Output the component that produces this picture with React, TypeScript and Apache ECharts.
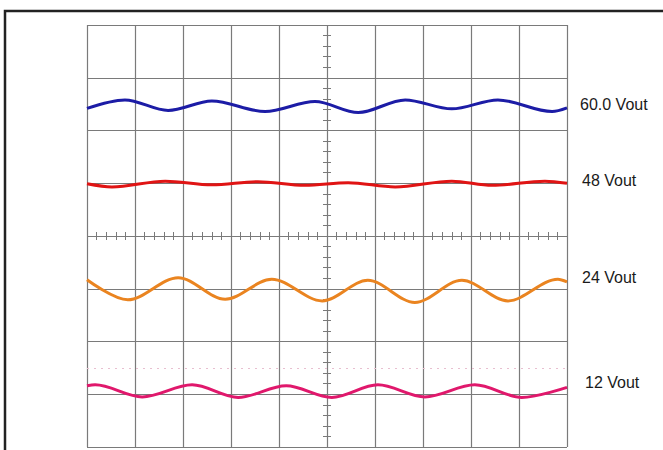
import React, { useEffect, useRef } from "react";
import * as echarts from "echarts";

// Oscilloscope screen: 10 horizontal divisions x 8 vertical divisions.
// Each trace point is [x division, y division (from bottom)]:
// trace ends plus each crest and trough.
const trace60V: [number, number][] = [
  [0, 6.42], [0.79, 6.58], [1.69, 6.38], [2.6, 6.56], [3.71, 6.36], [4.75, 6.55],
  [5.65, 6.34], [6.63, 6.58], [7.6, 6.41], [8.56, 6.58], [9.69, 6.36], [10, 6.43],
];
const trace48V: [number, number][] = [
  [0, 4.99], [0.52, 4.93], [1.63, 5.04], [2.6, 4.97], [3.56, 5.03], [4.54, 4.96],
  [5.44, 5.01], [6.42, 4.93], [7.6, 5.04], [8.44, 4.96], [9.54, 5.04], [10, 5.0],
];
const trace24V: [number, number][] = [
  [0, 3.17], [0.85, 2.79], [1.9, 3.21], [2.88, 2.8], [3.85, 3.18], [4.9, 2.77],
  [5.85, 3.16], [6.83, 2.74], [7.81, 3.16], [8.77, 2.77], [9.81, 3.18], [10, 3.13],
];
const trace12V: [number, number][] = [
  [0, 1.16], [0.17, 1.18], [1.15, 0.95], [2.19, 1.18], [3.15, 0.94], [4.15, 1.16],
  [5.1, 0.94], [6.06, 1.18], [7.04, 0.95], [8.08, 1.18], [9.06, 0.94], [10, 1.13],
];
const refLevel12V = 1.5;

const labels = ["60.0 Vout", "48 Vout", "24 Vout", "12 Vout"];
const labelPos: [number, number][] = [[580, 104], [582, 180], [582, 277], [585, 382]];
const colors = ["#1c1ca6", "#e01414", "#ea8420", "#e0186c"];

export default function App() {
  const ref = useRef<HTMLDivElement>(null);
  useEffect(() => {
    document.body.style.margin = "0";
    const chart = echarts.init(ref.current!, null, { renderer: "svg" });
    const gridColor = "#7a7a7a";
    const traces = [trace60V, trace48V, trace24V, trace12V];
    chart.setOption({
      animation: false,
      backgroundColor: "#ffffff",
      grid: [
        { left: 87, top: 25, width: 480, height: 422 },
        { left: 87, top: 232, width: 480, height: 8 },
        { left: 323, top: 25, width: 8, height: 422 },
      ],
      xAxis: [
        {
          type: "value", gridIndex: 0, min: 0, max: 10, interval: 1,
          axisLine: { show: false }, axisTick: { show: false }, axisLabel: { show: false },
          splitLine: { show: true, lineStyle: { color: gridColor, width: 1.2 } },
        },
        {
          type: "value", gridIndex: 1, min: 0, max: 10, interval: 1,
          axisLine: { show: false }, axisTick: { show: false }, axisLabel: { show: false },
          splitLine: { show: false },
          minorTick: { show: false, splitNumber: 5 },
          minorSplitLine: { show: true, lineStyle: { color: gridColor, width: 1 } },
        },
        { type: "value", gridIndex: 2, min: 0, max: 1, show: false },
      ],
      yAxis: [
        {
          type: "value", gridIndex: 0, min: 0, max: 8, interval: 1,
          axisLine: { show: false }, axisTick: { show: false }, axisLabel: { show: false },
          splitLine: { show: true, lineStyle: { color: gridColor, width: 1.2 } },
        },
        { type: "value", gridIndex: 1, min: 0, max: 1, show: false },
        {
          type: "value", gridIndex: 2, min: 0, max: 8, interval: 1,
          axisLine: { show: false }, axisTick: { show: false }, axisLabel: { show: false },
          splitLine: { show: false },
          minorTick: { show: false, splitNumber: 5 },
          minorSplitLine: { show: true, lineStyle: { color: gridColor, width: 1 } },
        },
      ],
      series: traces.map((d, i) => ({
        type: "line",
        xAxisIndex: 0,
        yAxisIndex: 0,
        data: d,
        smooth: 0.33,
        showSymbol: false,
        lineStyle: { color: colors[i], width: 3 },
        z: 5,
        markLine: i === 3 ? {
          silent: true,
          symbol: "none",
          label: { show: false },
          lineStyle: { color: "#e8bfd0", type: [2, 5], width: 1 },
          data: [{ yAxis: refLevel12V }],
        } : undefined,
      })),
      graphic: [
        {
          type: "rect",
          shape: { x: 5, y: 11, width: 670, height: 460 },
          style: { fill: "none", stroke: "#222222", lineWidth: 2.5 },
          z: 10,
        },
        ...labels.map((t, i) => ({
          type: "text",
          x: labelPos[i][0],
          y: labelPos[i][1],
          style: {
            text: t,
            fill: "#1a1a1a",
            font: "16px 'Liberation Sans', Arial, sans-serif",
            textVerticalAlign: "middle",
          },
          z: 10,
        })),
      ],
    });
    return () => chart.dispose();
  }, []);
  return <div ref={ref} style={{ width: 663, height: 450 }} />;
}
